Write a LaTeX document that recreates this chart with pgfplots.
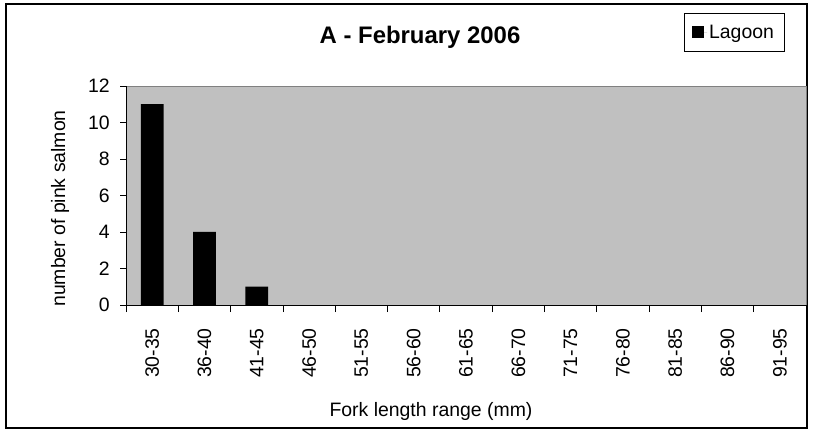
\documentclass[border=0pt]{standalone}
\usepackage{pgfplots}
\pgfplotsset{compat=1.18}
\usepackage{fontspec}
\setmainfont{Liberation Sans}
\definecolor{plotbg}{HTML}{C0C0C0}
\definecolor{plotedge}{HTML}{808080}
\begin{document}
\begin{tikzpicture}
\path (0,0) rectangle (813bp,432bp);
\draw[line width=2bp] (6.3bp,4.3bp) rectangle (807bp,427.7bp);
\begin{axis}[
  at={(126bp,127bp)}, anchor=south west,
  width=680bp, height=219bp, scale only axis,
  xmin=-0.5, xmax=12.5, ymin=0, ymax=12,
  axis lines*=left,
  axis line style={black, line width=0.8bp},
  axis background/.style={fill=plotbg, draw=plotedge, line width=0.8bp},
  ytick={0,2,...,12},
  xtick={0,...,12},
  xticklabels={30-35,36-40,41-45,46-50,51-55,56-60,61-65,66-70,71-75,76-80,81-85,86-90,91-95},
  minor xtick={-0.5,0.5,...,12.5},
  major x tick style={draw=none},
  minor tick length=7bp,
  major tick length=6bp,
  tick align=outside,
  tick style={black, line width=0.8bp},
  /pgf/number format/assume math mode=true,
  ticklabel style={font=\fontsize{19.5}{22}\selectfont},
  yticklabel style={anchor=east, inner sep=0pt, xshift=-10bp},
  xticklabel style={inner sep=0pt, anchor=east, rotate=90, xshift=-17bp},
  ybar, bar width=0.434,
  legend style={at={(0.968,1.333)}, anchor=north east, draw=black, line width=0.6bp,
    font=\fontsize{19.5}{22}\selectfont, inner xsep=8bp, inner ysep=9.5bp},
  legend image code/.code={\path (0bp,0bp) -- (15bp,0bp); \fill[black] (0bp,-6bp) rectangle (12bp,6bp);},
]
\addplot[fill=black, draw=none, restrict y to domain=0.01:100] coordinates {(0,11) (1,4) (2,1) (3,0) (4,0) (5,0) (6,0) (7,0) (8,0) (9,0) (10,0) (11,0) (12,0)};
\addlegendentry{Lagoon}
\end{axis}
\node[anchor=base, font=\fontsize{24}{28}\selectfont\bfseries] at (420bp,388bp) {A - February 2006};
\node[anchor=base, font=\fontsize{19.5}{22}\selectfont] at (431bp,16bp) {Fork length range (mm)};
\node[anchor=base, rotate=90, font=\fontsize{19.5}{22}\selectfont] at (65bp,223.5bp) {number of pink salmon};
\end{tikzpicture}
\end{document}
